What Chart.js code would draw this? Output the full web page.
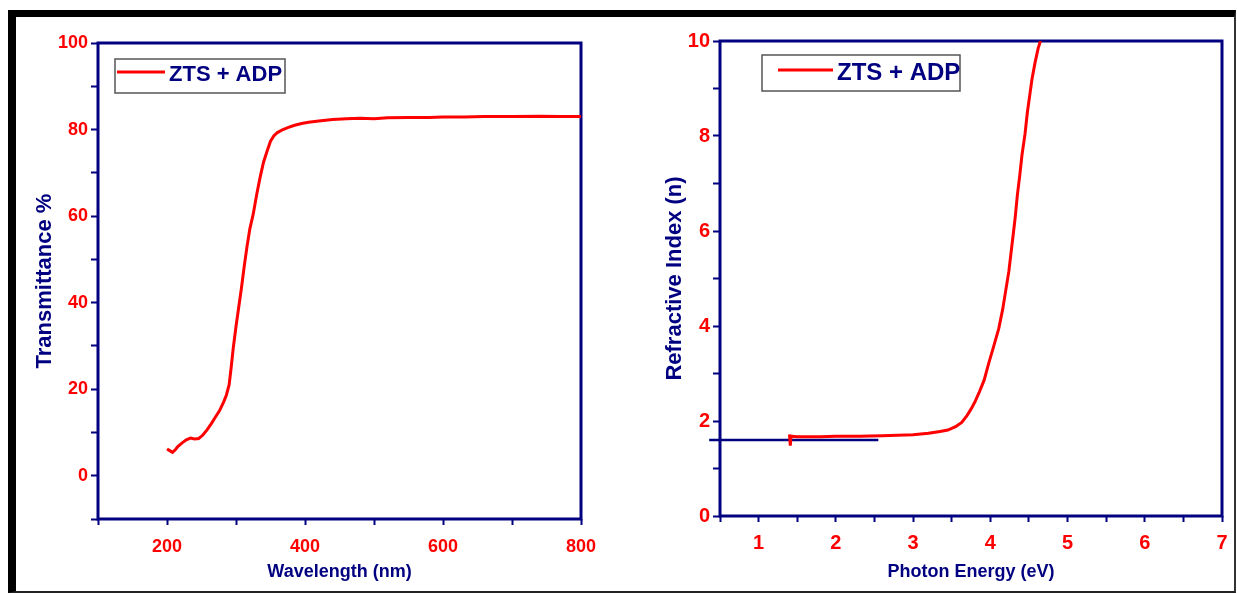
<!DOCTYPE html>
<html>
<head>
<meta charset="utf-8">
<script src="https://cdn.jsdelivr.net/npm/chart.js@4.4.1/dist/chart.umd.min.js"></script>
<style>
html, body { margin: 0; padding: 0; background: #fff; }
body { width: 1237px; height: 594px; position: relative; overflow: hidden; }
#frame { position: absolute; left: 8px; top: 10px; width: 1228px; height: 583px; box-sizing: border-box;
         border-top: 7px solid #000; border-left: 8px solid #000; border-right: 2px solid #333; border-bottom: 2px solid #222; }
#left  { position: absolute; left: 20px;  top: 20px; }
#right { position: absolute; left: 630px; top: 20px; }
</style>
</head>
<body>
<div id="frame"></div>
<canvas id="left" width="590" height="570"></canvas>
<canvas id="right" width="607" height="570"></canvas>
<script>
/* ---- transmittance spectrum (left) ---- */
var WAVELENGTH = [200, 204, 208, 212, 216, 222, 228, 234, 240, 246, 252, 258, 264, 270, 276, 282, 286, 290,
                  293, 296, 300, 304, 308, 312, 316, 320, 325, 330, 335, 340, 345, 350, 355, 360, 368, 376,
                  385, 395, 405, 420, 440, 460, 480, 500, 520, 550, 580, 600, 630, 660, 700, 740, 770, 800];
var TRANSMITTANCE = [6.2, 5.8, 5.4, 6.0, 6.8, 7.6, 8.3, 8.7, 8.5, 8.6, 9.4, 10.6, 12.0, 13.5, 15.0, 17.0, 18.6, 21.0,
                     25.0, 29.5, 34.5, 39.0, 43.5, 48.5, 53.0, 57.0, 60.5, 65.0, 69.0, 72.5, 75.0, 77.3, 78.6, 79.3, 80.0, 80.5,
                     81.0, 81.4, 81.7, 82.0, 82.3, 82.5, 82.6, 82.5, 82.7, 82.8, 82.8, 82.9, 82.9, 83.0, 83.0, 83.1, 83.0, 83.0];

/* ---- refractive index vs photon energy (right) ---- */
var ENERGY = [1.40, 1.41, 1.42, 1.5, 1.8, 2.0, 2.3, 2.6, 2.8, 3.0, 3.2, 3.35, 3.45, 3.55, 3.63, 3.70, 3.75, 3.80,
              3.86, 3.92, 3.98, 4.04, 4.11, 4.16, 4.19, 4.24, 4.28, 4.32, 4.35, 4.38, 4.41, 4.45, 4.48, 4.51,
              4.54, 4.58, 4.62, 4.65];
var REF_INDEX = [1.72, 1.48, 1.68, 1.67, 1.67, 1.68, 1.68, 1.69, 1.70, 1.71, 1.74, 1.78, 1.81, 1.88, 1.97, 2.12, 2.25, 2.40,
                 2.62, 2.86, 3.22, 3.55, 3.95, 4.35, 4.65, 5.15, 5.70, 6.25, 6.75, 7.15, 7.60, 8.05, 8.50, 8.85,
                 9.20, 9.55, 9.85, 10.0];
var BASE_E = [0.36, 2.55];
var BASE_N = [1.6, 1.6];

var SERIES_LABEL = 'ZTS + ADP';

var NAVY = '#000080';
var RED = '#FF0000';
var SANS = "'Liberation Sans', Arial, sans-serif";

function toPoints(xs, ys) {
    return xs.map(function(x, i) { return { x: x, y: ys[i] }; });
}

// plot frame around the chart area
var framePlugin = {
    id: 'frame',
    beforeDatasetsDraw: function(chart) {
        var a = chart.chartArea, ctx = chart.ctx;
        ctx.save();
        ctx.strokeStyle = NAVY;
        ctx.lineWidth = 3;
        ctx.strokeRect(a.left, a.top, a.right - a.left, a.bottom - a.top);
        ctx.restore();
    }
};

// boxed legend inside the plot, first dataset only
var boxLegend = {
    id: 'boxLegend',
    afterDraw: function(chart, args, o) {
        var a = chart.chartArea, ctx = chart.ctx, ds = chart.data.datasets[0];
        var x = a.left + o.dx, y = a.top + o.dy;
        ctx.save();
        ctx.fillStyle = '#fff';
        ctx.fillRect(x, y, o.w, o.h);
        ctx.strokeStyle = '#555';
        ctx.lineWidth = 1.5;
        ctx.strokeRect(x, y, o.w, o.h);
        ctx.strokeStyle = ds.borderColor;
        ctx.lineWidth = 3;
        ctx.beginPath();
        ctx.moveTo(x + o.lx, y + o.ly);
        ctx.lineTo(x + o.lx + o.len, y + o.ly);
        ctx.stroke();
        ctx.fillStyle = NAVY;
        ctx.font = 'bold ' + o.size + 'px ' + SANS;
        ctx.textBaseline = 'middle';
        ctx.fillText(ds.label, x + o.lx + o.len + 4, y + o.ty);
        ctx.restore();
    }
};

function axisX(min, max, step, labelEvery, title, height, tickSize, tickPad) {
    return {
        type: 'linear', min: min, max: max,
        ticks: {
            stepSize: step, autoSkip: false, maxRotation: 0, padding: tickPad, color: RED,
            font: { family: SANS, size: tickSize, weight: 'bold' },
            callback: function(v) { return Math.abs(v / labelEvery - Math.round(v / labelEvery)) < 1e-6 ? v : ''; }
        },
        grid: { drawOnChartArea: false, tickLength: 6, tickColor: NAVY, tickWidth: 2 },
        border: { display: false },
        title: { display: true, text: title, color: NAVY, font: { family: SANS, size: 18, weight: 'bold' },
                 padding: { top: 0, bottom: 7 } },
        afterFit: function(s) { s.height = height; }
    };
}

function axisY(min, max, step, labelEvery, title, width, titlePad, tickSize) {
    return {
        type: 'linear', min: min, max: max,
        ticks: {
            stepSize: step, autoSkip: false, padding: 3, color: RED,
            font: { family: SANS, size: tickSize, weight: 'bold' },
            callback: function(v) { return (v >= 0 && v % labelEvery === 0) ? v : ''; }
        },
        grid: { drawOnChartArea: false, tickLength: 7, tickColor: NAVY, tickWidth: 2 },
        border: { display: false },
        title: { display: true, text: title, color: NAVY, font: { family: SANS, size: 22, weight: 'bold' },
                 padding: { top: titlePad, bottom: 0 } },
        afterFit: function(s) { s.width = width; }
    };
}

new Chart(document.getElementById('left'), {
    type: 'scatter',
    data: {
        datasets: [{
            label: SERIES_LABEL,
            data: toPoints(WAVELENGTH, TRANSMITTANCE),
            showLine: true, borderColor: RED, backgroundColor: RED,
            borderWidth: 3, pointRadius: 0, tension: 0
        }]
    },
    options: {
        responsive: false, animation: false,
        layout: { padding: { left: 0, right: 29, top: 23, bottom: 0 } },
        plugins: {
            legend: { display: false }, tooltip: { enabled: false },
            boxLegend: { dx: 17, dy: 16, w: 170, h: 34, lx: 2, ly: 13, len: 48, ty: 16, size: 22 }
        },
        scales: {
            x: axisX(100, 800, 100, 200, 'Wavelength (nm)', 71, 18, 11),
            y: axisY(-10, 100, 10, 20, 'Transmittance %', 78, 12, 18)
        }
    },
    plugins: [framePlugin, boxLegend]
});

new Chart(document.getElementById('right'), {
    type: 'scatter',
    data: {
        datasets: [{
            label: SERIES_LABEL,
            data: toPoints(ENERGY, REF_INDEX),
            showLine: true, borderColor: RED, backgroundColor: RED,
            borderWidth: 3, pointRadius: 0, tension: 0
        }, {
            label: 'baseline',
            data: toPoints(BASE_E, BASE_N),
            showLine: true, borderColor: NAVY, backgroundColor: NAVY,
            borderWidth: 2.5, pointRadius: 0, clip: false
        }]
    },
    options: {
        responsive: false, animation: false,
        layout: { padding: { left: 0, right: 15, top: 21, bottom: 0 } },
        plugins: {
            legend: { display: false }, tooltip: { enabled: false },
            boxLegend: { dx: 42, dy: 14, w: 198, h: 36, lx: 16, ly: 15, len: 55, ty: 18, size: 24 }
        },
        scales: {
            x: axisX(0.5, 7, 0.5, 1, 'Photon Energy (eV)', 74, 20, 9),
            y: axisY(0, 10, 1, 2, 'Refractive Index (n)', 90, 32, 20)
        }
    },
    plugins: [framePlugin, boxLegend]
});
</script>
</body>
</html>
